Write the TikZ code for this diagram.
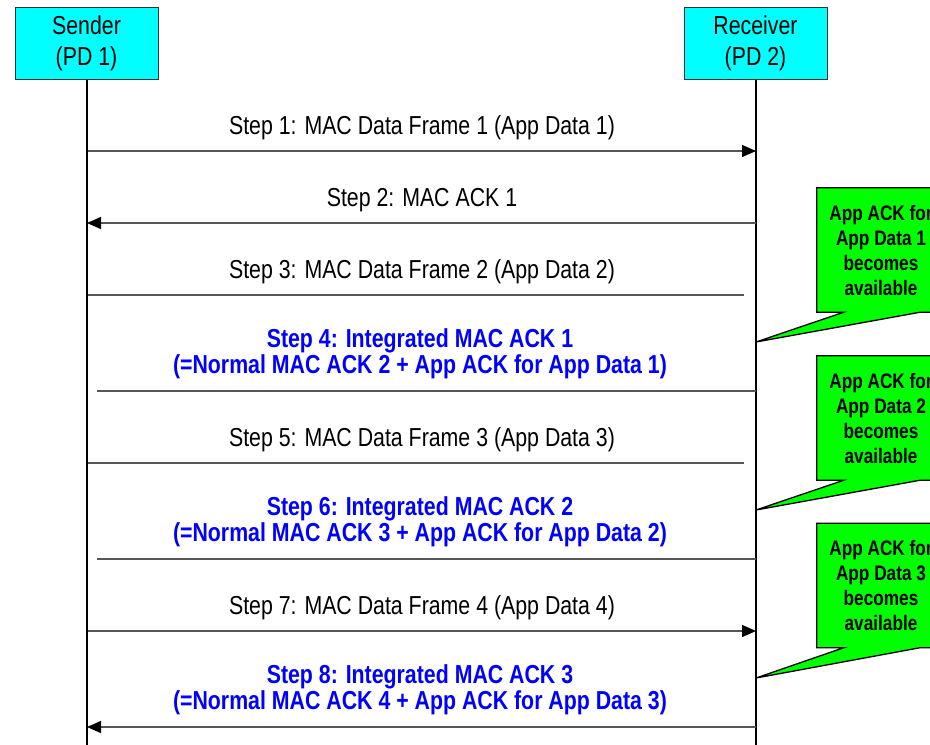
\documentclass[tikz,border=0pt]{standalone}
\usepackage{fontspec}
\setmainfont{Liberation Sans}[FakeStretch=0.82]
\usepackage{tikz}
\usetikzlibrary{arrows.meta, calc, backgrounds}
\definecolor{pdcyan}{HTML}{00FFFF}
\definecolor{notegreen}{HTML}{00FF00}
\definecolor{ackblue}{HTML}{0000FF}
\definecolor{msggray}{HTML}{555555}

\begin{document}
\begin{tikzpicture}[x=1pt, y=-1pt,
  party/.style={rectangle, draw=black!80, fill=pdcyan, line width=1pt,
    minimum width=143pt, minimum height=72pt, inner sep=0pt, align=center,
    font=\fontsize{26}{31}\selectfont},
  life/.style={line width=2pt, black},
  msg/.style={draw=msggray, line width=1.3pt},
  sendto/.style={msg, -{Triangle[length=14pt, width=12pt, color=black]}},
  lbl/.style={anchor=base, inner sep=0pt, font=\fontsize{26}{26}\selectfont},
  intlbl/.style={anchor=base, inner sep=0pt, align=center, text=ackblue,
    font=\fontsize{26}{26}\selectfont\bfseries},
  notebg/.style={fill=notegreen, draw=black, line width=1.3pt},
  note/.style={rectangle, inner sep=0pt, align=center,
    minimum width=128pt, minimum height=124pt,
    font=\fontsize{21}{25}\selectfont\bfseries},
]
  \path[use as bounding box, clip] (0,0) rectangle (930,745);

  % parties and lifelines
  \node[party] (snd) at (86.5,43) {Sender\\(PD 1)};
  \node[party] (rcv) at (755.5,43) {Receiver\\(PD 2)};
  \coordinate (bot) at (0,760);
  \draw[life] (snd.south) -- (snd.south |- bot);
  \draw[life] (rcv.south) -- (rcv.south |- bot);

  % message end points
  \coordinate (a1) at (88,151);  \coordinate (b1) at (756,151);
  \coordinate (a2) at (87,223);  \coordinate (b2) at (756,223);
  \coordinate (a3) at (88,295);  \coordinate (b3) at (744,295);
  \coordinate (a4) at (97,391);  \coordinate (b4) at (756,391);
  \coordinate (a5) at (88,463);  \coordinate (b5) at (744,463);
  \coordinate (a6) at (97,559);  \coordinate (b6) at (756,559);
  \coordinate (a7) at (88,631);  \coordinate (b7) at (756,631);
  \coordinate (a8) at (87,727);  \coordinate (b8) at (756,727);

  \draw[sendto] (a1) -- (b1);
  \draw[sendto] (b2) -- (a2);
  \draw[msg] (a3) -- (b3);
  \draw[msg] (b4) -- (a4);
  \draw[msg] (a5) -- (b5);
  \draw[msg] (b6) -- (a6);
  \draw[sendto] (a7) -- (b7);
  \draw[sendto] (b8) -- (a8);

  % labels (two-line ones sit on the baseline of their last line)
  \node[lbl] (m1) at (422,134) {Step 1: MAC Data Frame 1 (App Data 1)};
  \node[lbl] (m2) at (422,206) {Step 2: MAC ACK 1};
  \node[lbl] (m3) at (422,278) {Step 3: MAC Data Frame 2 (App Data 2)};
  \node[intlbl] (m4) at (420,373) {Step 4: Integrated MAC ACK 1\\(=Normal MAC ACK 2 + App ACK for App Data 1)};
  \node[lbl] (m5) at (422,446) {Step 5: MAC Data Frame 3 (App Data 3)};
  \node[intlbl] (m6) at (420,541) {Step 6: Integrated MAC ACK 2\\(=Normal MAC ACK 3 + App ACK for App Data 2)};
  \node[lbl] (m7) at (422,614) {Step 7: MAC Data Frame 4 (App Data 4)};
  \node[intlbl] (m8) at (420,709) {Step 8: Integrated MAC ACK 3\\(=Normal MAC ACK 4 + App ACK for App Data 3)};

  % notes on the receiver side
  \node[note] (n1) at (881,250) {App ACK for\\App Data 1\\becomes\\available};
  \node[note] (n2) at (881,418) {App ACK for\\App Data 2\\becomes\\available};
  \node[note] (n3) at (881,585.5) {App ACK for\\App Data 3\\becomes\\available};
  \coordinate (t1) at (756,342);
  \coordinate (t2) at (756,510);
  \coordinate (t3) at (756,678);

  \begin{scope}[on background layer]
    \foreach \n in {1,2,3}
      \draw[notebg] (n\n.north west) -- (n\n.north east) -- (n\n.south east)
        -- ($(n\n.south east)+(-25,0)$) -- (t\n) -- ($(n\n.south west)+(27,0)$)
        -- (n\n.south west) -- cycle;
  \end{scope}
\end{tikzpicture}
\end{document}
